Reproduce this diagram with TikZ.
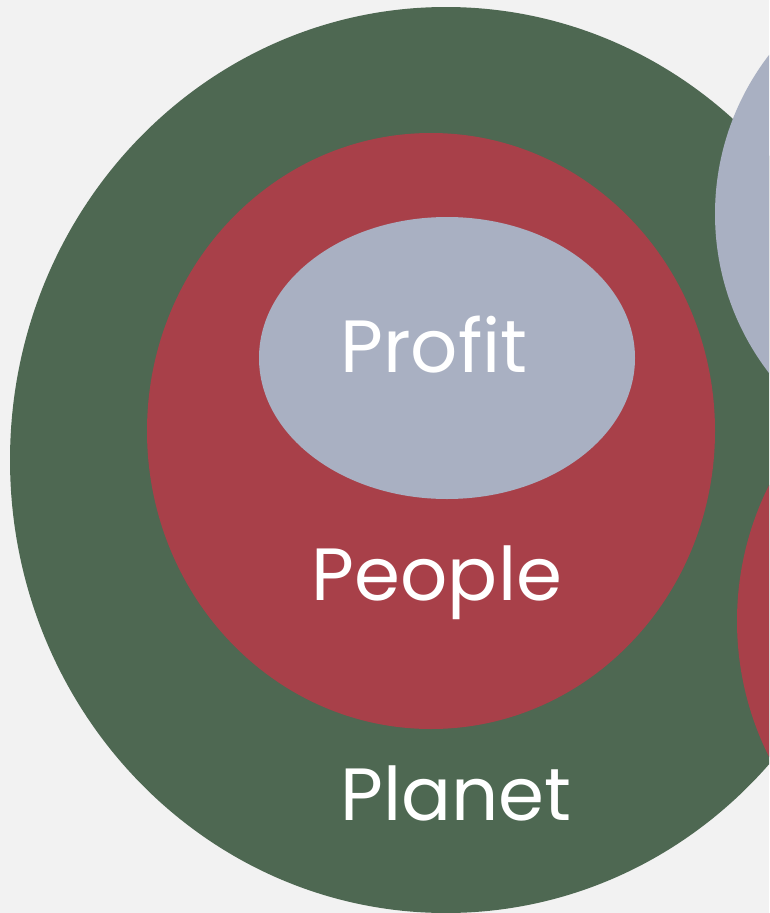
\documentclass[tikz,border=0pt]{standalone}
\usepackage{fontspec}
\setmainfont{Poppins}
\definecolor{bgc}{HTML}{F2F2F2}
\definecolor{planetc}{HTML}{4E6852}
\definecolor{peoplec}{HTML}{A84049}
\definecolor{profitc}{HTML}{A9B0C2}
\tikzset{
  lbl/.style={text=white, anchor=base, inner sep=0pt, font=\fontsize{74}{86}\selectfont},
}
\begin{document}
\begin{tikzpicture}[x=1pt, y=-1pt]
\useasboundingbox (0,0) rectangle (769,913);
\fill[bgc] (0,0) rectangle (769,913);
\clip (0,0) rectangle (769,913);
% main planet
\fill[planetc] (446,460) ellipse [x radius=436pt, y radius=453pt];
% right partial shapes
\fill[profitc] (976,214) circle [radius=261pt];
\fill[peoplec] (1040,621) circle [radius=303pt];
% people and profit
\fill[peoplec] (431,431) ellipse [x radius=284pt, y radius=298pt];
\fill[profitc] (447,358) ellipse [x radius=188pt, y radius=141pt];
% labels
\node[lbl] (profit) at (434,372) {Profit};
\node[lbl] (people) at (437,600) {People};
\node[lbl] (planet) at (456,820) {Planet};
\end{tikzpicture}
\end{document}
